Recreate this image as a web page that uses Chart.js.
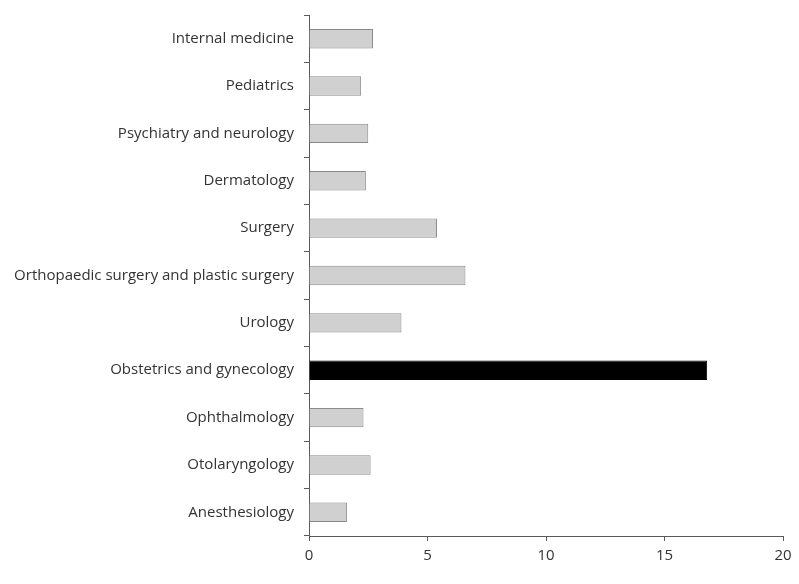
<!DOCTYPE html>
<html>
<head>
<meta charset="utf-8">
<script src="https://cdn.jsdelivr.net/npm/chart.js@4"></script>
<style>
  html, body { margin: 0; padding: 0; background: #fff; }
  #wrap { width: 799px; height: 584px; }
</style>
</head>
<body>
<div id="wrap"><canvas id="specialty-chart"></canvas></div>
<script>
// specialties, top to bottom
const specialties = [
    "Internal medicine",
    "Pediatrics",
    "Psychiatry and neurology",
    "Dermatology",
    "Surgery",
    "Orthopaedic surgery and plastic surgery",
    "Urology",
    "Obstetrics and gynecology",
    "Ophthalmology",
    "Otolaryngology",
    "Anesthesiology"
]

const values = [2.7, 2.2, 2.5, 2.4, 5.4, 6.6, 3.9, 16.8, 2.3, 2.6, 1.6]

const xTicks = [0, 5, 10, 15, 20]

// highlight obstetrics in black, the rest light grey
const highlighted = "Obstetrics and gynecology"
const fills = specialties.map(s => s === highlighted ? "#000000" : "#d0d0d0")
const borders = specialties.map(s => s === highlighted ? "#000000" : "#8a8a8a")

const axisColor = "#5a5a5a"
const textColor = "#333333"
const labelFont = { family: "'Open Sans'", size: 15, weight: "normal" }

new Chart("specialty-chart", {
    type: "bar",
    data: {
        labels: specialties,
        datasets: [{
            data: values,
            backgroundColor: fills,
            borderColor: borders,
            borderWidth: 1,
            barPercentage: 0.41,
            categoryPercentage: 1.0
        }]
    },
    options: {
        indexAxis: "y",
        responsive: true,
        maintainAspectRatio: false,
        animation: false,
        layout: { padding: { top: 15, right: 16, left: 0, bottom: 0 } },
        plugins: {
            legend: { display: false },
            tooltip: { enabled: false }
        },
        scales: {
            x: {
                min: 0,
                max: 20,
                afterBuildTicks: (scale) => {
                    scale.ticks = xTicks.map(v => ({ value: v }))
                },
                afterFit: (scale) => { scale.height = 48 },
                border: { display: true, color: axisColor, width: 1 },
                grid: {
                    drawOnChartArea: false,
                    drawTicks: true,
                    tickLength: 5,
                    color: axisColor
                },
                ticks: {
                    color: textColor,
                    padding: 6,
                    font: labelFont
                }
            },
            y: {
                afterFit: (scale) => {
                    scale.width = 309
                    // labels sit mid-category, no extra room needed above/below
                    scale.paddingTop = 0
                    scale.paddingBottom = 0
                },
                border: { display: true, color: axisColor, width: 1 },
                grid: {
                    offset: true,
                    drawOnChartArea: false,
                    drawTicks: true,
                    tickLength: 5,
                    color: axisColor
                },
                ticks: {
                    color: textColor,
                    padding: 10,
                    font: labelFont
                }
            }
        }
    }
});
</script>
</body>
</html>
